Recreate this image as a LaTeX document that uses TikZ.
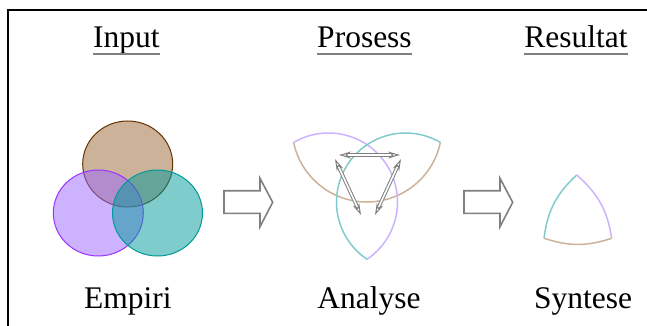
\documentclass[tikz,border=0pt]{standalone}
\usepackage{fontspec}
\setmainfont{Liberation Serif}
\usetikzlibrary{arrows.meta}

\definecolor{brun}{RGB}{153,102,51}
\definecolor{brunkant}{RGB}{102,51,0}
\definecolor{lilla}{RGB}{153,102,255}
\definecolor{lillakant}{RGB}{153,51,255}
\definecolor{turkis}{RGB}{0,153,153}

\tikzset{
  tekst/.style = {font=\rmfamily\fontsize{31.5}{38}\selectfont, inner sep=0pt},
  strek/.style = {gray, line width=1.4pt},
  sirkel/.style = {line width=1pt, fill opacity=0.5},
  bue/.style = {line width=1.5pt},
  pil/.style = {draw=gray, line width=1pt, double=white, double distance=1.6pt,
    arrows={Stealth[open,length=12pt,width=7pt]-Stealth[open,length=12pt,width=7pt]}},
  blokkpil/.style = {gray, line width=1.6pt, line join=miter}
}

\begin{document}
\begin{tikzpicture}[x=1pt, y=-1pt]
\clip (0,0) rectangle (647,326);
\draw [line width=2pt] (8,10) rectangle (700,400);

% overskrifter
\node [tekst, anchor=base] (inp) at (126.3,48) {Input};
\node [tekst, anchor=base] (pro) at (364.5,48) {Prosess};
\node [tekst, anchor=base] (res) at (576,48) {Resultat};
\draw [strek] ([yshift=-6pt]inp.base west) -- ([yshift=-6pt]inp.base east);
\draw [strek] ([yshift=-6pt]pro.base west) -- ([yshift=-6pt]pro.base east);
\draw [strek] ([yshift=-6pt]res.base west) -- ([yshift=-6pt]res.base east);

% empiri
\draw [sirkel, draw=brunkant, fill=brun] (127.7,164) ellipse [x radius=45, y radius=43];
\draw [sirkel, draw=lillakant, fill=lilla] (98.3,213) ellipse [x radius=45, y radius=43];
\draw [sirkel, draw=turkis, fill=turkis] (157.5,213) ellipse [x radius=45, y radius=43];

% analyse
\coordinate (sB) at (367,127);
\coordinate (sP) at (328.5,202);
\coordinate (sT) at (405.5,202);
\draw [bue, brun!50] (sB) ++(168.1:75) arc [start angle=168.1, end angle=11.9, radius=75];
\draw [bue, lilla!50] (sP) ++(-120.4:69) arc [start angle=-120.4, end angle=56.1, radius=69];
\draw [bue, turkis!50] (sT) ++(-59.6:69) arc [start angle=-59.6, end angle=-236.1, radius=69];

\coordinate (hv) at (339,155);
\coordinate (hh) at (400,155);
\coordinate (vo) at (335,159);
\coordinate (vn) at (361,215);
\coordinate (ho) at (401,159);
\coordinate (hn) at (375,215);
\draw [pil] (hv) -- (hh);
\draw [pil] (vo) -- (vn);
\draw [pil] (ho) -- (hn);

% syntese
\coordinate (st) at (576.7,175);
\coordinate (sv) at (544,238.3);
\coordinate (sh) at (611.7,238.3);
\draw [bue, turkis!50] (st) to [bend right=20] (sv);
\draw [bue, brun!50] (sv) to [bend right=18] (sh);
\draw [bue, lilla!50] (sh) to [bend right=20] (st);

% blokkpiler
\draw [blokkpil] (224,190.7) -- (260,190.7) -- (260,178.3) -- (272.7,202.3) -- (260,226.7) -- (260,213.3) -- (224,213.3) -- cycle;
\draw [blokkpil] (464,190.7) -- (500,190.7) -- (500,178.3) -- (512.7,202.3) -- (500,226.7) -- (500,213.3) -- (464,213.3) -- cycle;

% undertekster
\node [tekst, anchor=base] (emp) at (127.9,308) {Empiri};
\node [tekst, anchor=base] (ana) at (369,308) {Analyse};
\node [tekst, anchor=base] (syn) at (583,308) {Syntese};
\end{tikzpicture}
\end{document}
